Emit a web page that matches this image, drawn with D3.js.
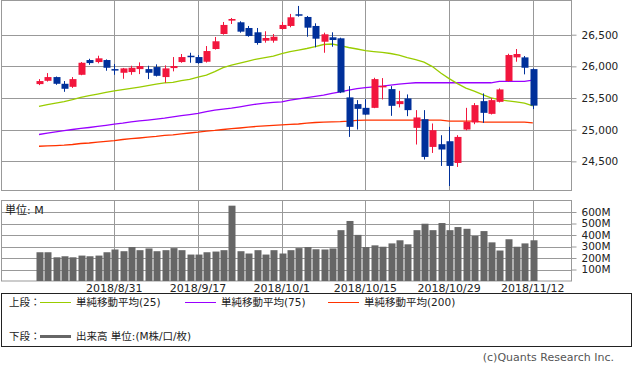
<!DOCTYPE html>
<html><head><meta charset="utf-8">
<script src="https://cdn.jsdelivr.net/npm/d3@7"></script>
<style>
html,body{margin:0;padding:0;background:#fff;}
svg{display:block;font-family:"DejaVu Sans","Noto Sans CJK JP",sans-serif;}
</style></head>
<body><svg id="chart" width="633" height="370"></svg>
<script>
const dates = ["2018/8/20","2018/8/21","2018/8/22","2018/8/23","2018/8/24","2018/8/27","2018/8/28","2018/8/29","2018/8/30","2018/8/31",
"2018/9/4","2018/9/5","2018/9/6","2018/9/7","2018/9/10","2018/9/11","2018/9/12","2018/9/13","2018/9/14","2018/9/17",
"2018/9/18","2018/9/19","2018/9/20","2018/9/21","2018/9/24","2018/9/25","2018/9/26","2018/9/27","2018/9/28","2018/10/1",
"2018/10/2","2018/10/3","2018/10/4","2018/10/5","2018/10/8","2018/10/9","2018/10/10","2018/10/11","2018/10/12","2018/10/15",
"2018/10/16","2018/10/17","2018/10/18","2018/10/19","2018/10/22","2018/10/23","2018/10/24","2018/10/25","2018/10/26","2018/10/29",
"2018/10/30","2018/10/31","2018/11/1","2018/11/2","2018/11/5","2018/11/6","2018/11/7","2018/11/8","2018/11/9","2018/11/12"];
const open = [25720,25772,25831,25725,25677,25867,26100,26068,26100,25957,
25899,25910,25957,25957,25989,25831,25973,26068,26168,26147,
26073,26274,26511,26722,26696,26606,26538,26405,26405,26590,
26638,26823,26780,26638,26389,26459,26443,25510,25404,25345,
25345,25668,25641,25404,25494,25029,25166,24728,24771,24818,
24475,25003,25114,25451,25250,25440,25768,26142,26142,25957];
const high = [25799,25894,25840,25768,25831,26068,26120,26168,26110,26037,
25975,26010,26063,26010,26032,26016,26147,26195,26215,26179,
26321,26464,26701,26764,26712,26638,26606,26554,26511,26701,
26828,26954,26796,26680,26532,26538,26453,25688,25467,25483,
25820,25815,25688,25614,25557,25309,25309,25098,24913,25045,
24913,25345,25420,25573,25503,25652,26199,26274,26163,25968];
const low = [25704,25760,25709,25598,25660,25860,26025,26048,25931,25867,
25804,25867,25878,25799,25840,25741,25921,26057,26057,26041,
26060,26265,26500,26669,26532,26468,26342,26374,26374,26580,
26617,26785,26468,26301,26215,26310,25578,24886,25003,25230,
25340,25478,25219,25352,25214,24766,24529,24633,24428,24111,
24412,24990,25087,25108,25240,25430,25760,26073,25874,25325];
const close = [25768,25831,25725,25646,25799,26057,26052,26127,25978,25948,
25968,25978,26005,25899,25851,25968,26005,26147,26158,26052,
26242,26396,26654,26748,26548,26479,26369,26448,26468,26654,
26775,26812,26611,26437,26506,26416,25589,25045,25329,25238,
25799,25693,25377,25451,25309,25193,24570,24992,24687,24428,
24886,25124,25388,25266,25467,25636,26179,26195,25978,25380];
const volume = [250,250,206,215,206,221,215,221,250,274,
259,295,268,283,259,268,286,268,230,230,
250,256,268,655,259,239,268,230,268,239,
268,286,295,276,274,283,442,522,401,295,
310,298,327,354,319,442,498,442,504,442,
469,454,392,434,336,265,363,298,327,354];
const ma25 = [25367,25396,25420,25443,25475,25511,25538,25562,25589,25613,25633,25652,25673,25696,25720,25739,25747,25775,25796,25831,
25862,25918,25981,26021,26052,26084,26116,26139,26163,26203,26234,26258,26282,26310,26345,26353,26329,26298,26274,26247,
26234,26222,26203,26179,26139,26108,26068,25997,25894,25807,25728,25657,25609,25554,25502,25475,25456,25439,25420,25377];
const ma75 = [24924,24945,24966,24985,25003,25021,25035,25051,25068,25087,25103,25122,25138,25151,25166,25182,25201,25222,25239,25257,
25285,25309,25325,25341,25361,25383,25404,25420,25431,25440,25467,25488,25507,25526,25546,25573,25598,25625,25647,25665,
25677,25688,25704,25720,25733,25741,25741,25741,25741,25741,25741,25741,25741,25741,25741,25763,25763,25763,25763,25783];
const ma200 = [24739,24744,24750,24755,24766,24782,24790,24803,24815,24826,24845,24858,24869,24882,24894,24909,24918,24934,24948,24961,
24977,24988,25003,25016,25027,25040,25051,25060,25068,25075,25083,25090,25103,25114,25119,25124,25127,25135,25146,25151,
25151,25151,25151,25151,25151,25151,25151,25151,25151,25135,25135,25135,25135,25119,25119,25119,25119,25119,25119,25108];
const priceTicks = [24500,25000,25500,26000,26500];
const volumeTicks = [100,200,300,400,500,600];
const dateTicks = ["2018/8/31","2018/9/17","2018/10/1","2018/10/15","2018/10/29","2018/11/12"];
const legendItems = [
  {label:"単純移動平均(25)", color:"#99cc00"},
  {label:"単純移動平均(75)", color:"#9900ff"},
  {label:"単純移動平均(200)", color:"#ff3300"}
];

const svg = d3.select("#chart");
const W = 633, H = 370;
svg.append("rect").attr("width",W).attr("height",H).attr("fill","#fff");
const gridColor = "#999", upColor = "#f2163d", downColor = "#00309a", textColor = "#222";
const L = 1.5, R = 571.5;
const pTop = 0.5, pBot = 190.5, vTop = 200.5, vBot = 281;

const x = d3.scaleBand().domain(dates).range([34.8, 34.8 + 8.37*dates.length]).paddingInner(0);
const cx = d => x(d) + x.bandwidth()/2;
const y = d3.scaleLinear().domain([24040, 27040]).range([pBot, pTop]);
const yv = d3.scaleLinear().domain([0, 700]).range([vBot, vTop]);

// ---- price panel grid
const gP = svg.append("g");
gP.selectAll("line.h").data(priceTicks).join("line")
  .attr("x1",L).attr("x2",R).attr("y1",d=>Math.round(y(d))+0.5).attr("y2",d=>Math.round(y(d))+0.5)
  .attr("stroke",gridColor);
gP.selectAll("line.v").data(dateTicks).join("line")
  .attr("x1",d=>Math.round(cx(d))+0.5).attr("x2",d=>Math.round(cx(d))+0.5).attr("y1",pTop).attr("y2",pBot)
  .attr("stroke",gridColor);
gP.append("rect").attr("x",L).attr("y",pTop).attr("width",R-L).attr("height",pBot-pTop)
  .attr("fill","none").attr("stroke",gridColor);

// right axis price
const axP = d3.axisRight(y).tickValues(priceTicks).tickSize(5).tickPadding(5).tickFormat(d3.format(","));
const gax = svg.append("g").attr("transform",`translate(${R},0)`).call(axP);
gax.select(".domain").remove();
gax.selectAll(".tick line").attr("stroke",gridColor);
gax.selectAll("text").attr("fill",textColor).attr("font-size","10.5px").attr("font-family","DejaVu Sans");

// MA lines
const maLine = arr => d3.line().x((d,i)=>cx(dates[i])).y(d=>y(d))(arr);
[[ma200,"#ff3300"],[ma75,"#9900ff"],[ma25,"#99cc00"]].forEach(([arr,c])=>{
  svg.append("path").attr("d",maLine(arr)).attr("fill","none").attr("stroke",c).attr("stroke-width",1.3);
});

// candles
const cw = 6;
const gc = svg.append("g");
dates.forEach((d,i)=>{
  const up = close[i] >= open[i];
  const col = up ? upColor : downColor;
  const xc = Math.round(cx(d));
  gc.append("line").attr("x1",xc+0.5).attr("x2",xc+0.5).attr("y1",y(high[i])).attr("y2",y(low[i]))
    .attr("stroke",col).attr("stroke-width",1);
  const top = y(Math.max(open[i],close[i])), bot = y(Math.min(open[i],close[i]));
  gc.append("rect").attr("x",xc-cw/2+0.5).attr("y",top).attr("width",cw+1).attr("height",Math.max(1.5,bot-top))
    .attr("fill",col);
});

// ---- volume panel
const gV = svg.append("g");
gV.selectAll("line.h").data(volumeTicks).join("line")
  .attr("x1",L).attr("x2",R).attr("y1",d=>Math.round(yv(d))+0.5).attr("y2",d=>Math.round(yv(d))+0.5)
  .attr("stroke",gridColor);
gV.selectAll("line.v").data(dateTicks).join("line")
  .attr("x1",d=>Math.round(cx(d))+0.5).attr("x2",d=>Math.round(cx(d))+0.5).attr("y1",vTop).attr("y2",vBot)
  .attr("stroke",gridColor);
gV.append("rect").attr("x",L).attr("y",vTop).attr("width",R-L).attr("height",vBot-vTop)
  .attr("fill","none").attr("stroke",gridColor);
gV.selectAll("rect.bar").data(volume).join("rect")
  .attr("x",(d,i)=>Math.round(cx(dates[i]))-cw/2+0.5).attr("width",cw+1)
  .attr("y",d=>yv(d)).attr("height",d=>vBot-yv(d)).attr("fill","#666");
const axV = d3.axisRight(yv).tickValues(volumeTicks).tickSize(5).tickPadding(5).tickFormat(d=>d+"M");
const gav = svg.append("g").attr("transform",`translate(${R},0)`).call(axV);
gav.select(".domain").remove();
gav.selectAll(".tick line").attr("stroke",gridColor);
gav.selectAll("text").attr("fill",textColor).attr("font-size","10.5px").attr("font-family","DejaVu Sans");
svg.append("text").attr("x",5).attr("y",214).attr("font-size","11px").attr("fill",textColor).text("単位: M");

// date labels
svg.selectAll("text.date").data(dateTicks).join("text")
  .attr("x",d=>cx(d)).attr("y",292).attr("text-anchor","middle")
  .attr("font-size","11px").attr("fill",textColor).text(d=>d);

// legend
svg.append("rect").attr("x",1.5).attr("y",293.5).attr("width",630).attr("height",53)
  .attr("fill","none").attr("stroke","#222");
svg.append("text").attr("x",9).attr("y",306).attr("font-size","10.5px").attr("fill",textColor).text("上段：");
const legX = [40,185,328];
legendItems.forEach((it,k)=>{
  svg.append("line").attr("x1",legX[k]).attr("x2",legX[k]+31).attr("y1",302.5).attr("y2",302.5)
    .attr("stroke",it.color).attr("stroke-width",1);
  svg.append("text").attr("x",legX[k]+36).attr("y",306).attr("font-size","10.5px").attr("fill",textColor).text(it.label);
});
svg.append("text").attr("x",9).attr("y",340).attr("font-size","10.5px").attr("fill",textColor).text("下段：");
svg.append("line").attr("x1",40).attr("x2",71).attr("y1",336.5).attr("y2",336.5).attr("stroke","#666").attr("stroke-width",3);
svg.append("text").attr("x",76).attr("y",340).attr("font-size","10.5px").attr("fill",textColor).text("出来高 単位:(M株/口/枚)");
svg.append("text").attr("x",614).attr("y",361).attr("text-anchor","end").attr("font-size","11px").attr("fill","#555")
  .text("(c)Quants Research Inc.");
</script></body></html>
